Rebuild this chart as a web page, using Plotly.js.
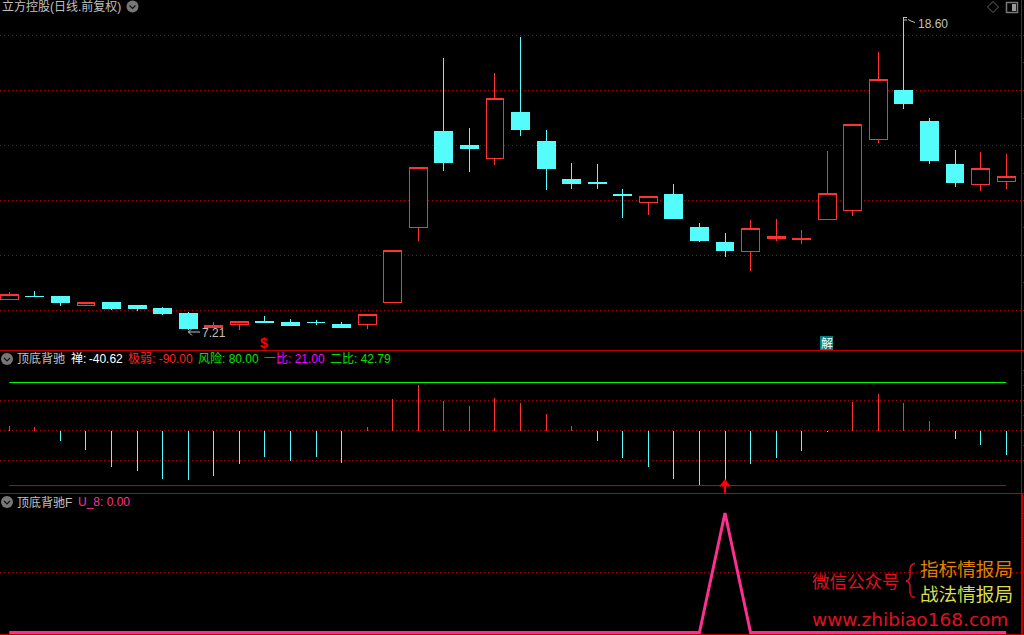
<!DOCTYPE html>
<html><head><meta charset="utf-8">
<script src="https://cdn.plot.ly/plotly-3.0.1.min.js"></script>
<style>html,body{margin:0;padding:0;background:#000;overflow:hidden}
#chart .boxes path,#chart .bars path{shape-rendering:crispEdges !important}</style>
</head><body><div id="chart" style="width:1024px;height:635px"></div>
<script>
var index = [0,1,2,3,4,5,6,7,8,9,10,11,12,13,14,15,16,17,18,19,20,21,22,23,24,25,26,27,28,29,30,31,32,33,34,35,36,37,38,39];
var open  = [8.34,8.45,8.42,8.12,8.20,8.12,8.01,7.80,7.32,7.43,7.54,7.50,7.50,7.43,7.43,8.20,10.94,14.46,13.95,13.49,15.15,14.09,12.71,12.60,12.16,11.85,12.16,10.95,10.41,10.06,10.54,10.50,11.23,11.59,14.15,15.95,14.82,13.25,12.54,12.65];
var high  = [8.60,8.64,8.42,8.23,8.20,8.12,8.05,7.87,7.51,7.54,7.72,7.61,7.58,7.51,7.76,10.13,13.16,17.14,14.59,16.60,17.91,14.51,13.31,13.27,12.36,12.10,12.54,11.12,10.76,11.23,11.27,10.86,13.75,14.70,17.36,18.60,14.95,13.78,13.71,13.64];
var low   = [8.34,8.42,8.09,8.12,7.94,7.91,7.76,7.21,7.29,7.22,7.50,7.36,7.39,7.29,7.25,8.20,10.46,13.02,12.98,13.24,14.30,12.32,12.36,12.36,11.30,11.41,11.27,10.43,9.88,9.37,10.46,10.35,11.23,11.37,14.04,15.28,13.27,12.43,12.29,12.36];
var close = [8.49,8.42,8.20,8.20,8.01,8.01,7.80,7.25,7.39,7.54,7.50,7.36,7.47,7.32,7.76,10.13,13.16,13.33,13.84,15.68,14.53,13.11,12.56,12.56,12.12,12.10,11.29,10.48,10.12,10.90,10.61,10.57,12.21,14.70,16.34,15.48,13.40,12.60,13.09,12.83];
var priceGrid = [17.96,15.95,13.95,11.94,9.93,7.93];
var priceMinor = [16.96,14.95,12.94,10.94,8.93];
var zen = [7.2,5.5,-18,-33,-61,-68,-81,-83,-76,-56,-44,-51,-44,-54.5,5.5,52,75.5,49,40.5,54,45.5,27,7,-18,-46,-61,-81,-91,-90,-56,-46,-34.5,-2.8,47,60.5,45.5,15.5,-14.5,-24.5,-40.62];
var riskLine = [80,80,80,80,80,80,80,80,80,80,80,80,80,80,80,80,80,80,80,80,80,80,80,80,80,80,80,80,80,80,80,80,80,80,80,80,80,80,80,80];
var weakLine = [-91.6,-91.6,-91.6,-91.6,-91.6,-91.6,-91.6,-91.6,-91.6,-91.6,-91.6,-91.6,-91.6,-91.6,-91.6,-91.6,-91.6,-91.6,-91.6,-91.6,-91.6,-91.6,-91.6,-91.6,-91.6,-91.6,-91.6,-91.6,-91.6,-91.6,-91.6,-91.6,-91.6,-91.6,-91.6,-91.6,-91.6,-91.6,-91.6,-91.6];
var u8 = [0,0,0,0,0,0,0,0,0,0,0,0,0,0,0,0,0,0,0,0,0,0,0,0,0,0,0,0,100,0,0,0,0,0,0,0,0,0,0,0];
var zenGrid = [50,0,-50];
var zenMinor = [100,75,25,-25];
var u8Grid = [50];
var u8Minor = [100,75,25];

var RED='#ff3232', CYAN='#54fcfc', GRID='#b00000', LINE='#c00000', GRAY='#c0c0c0';
var W=1024,H=635;
function px(x){return x/W;}
function py(y){return 1-y/H;}

var traces=[
 {type:'candlestick',x:index,open:open,high:high,low:low,close:close,xaxis:'x',yaxis:'y',whiskerwidth:0,
  increasing:{line:{color:RED,width:1},fillcolor:'#000'},
  decreasing:{line:{color:CYAN,width:1},fillcolor:CYAN},hoverinfo:'skip'},
 {type:'bar',x:index,y:zen,base:0,width:0.0393,xaxis:'x',yaxis:'y2',
  marker:{color:zen.map(function(v){return v>=0?RED:CYAN;}),line:{width:0}},hoverinfo:'skip'},
 {type:'scatter',mode:'lines',x:index,y:riskLine,xaxis:'x',yaxis:'y2',line:{color:'#00ff00',width:1},hoverinfo:'skip'},
 {type:'scatter',mode:'lines',x:index,y:weakLine,xaxis:'x',yaxis:'y2',line:{color:'#d80000',width:1},hoverinfo:'skip'},
 {type:'scatter',mode:'lines',x:[28,28],y:[-104,-92],xaxis:'x',yaxis:'y2',line:{color:'#ff0000',width:2},hoverinfo:'skip'},
 {type:'scatter',mode:'markers',x:[28],y:[-89],xaxis:'x',yaxis:'y2',marker:{symbol:'triangle-up',size:10,color:'#ff0000'},hoverinfo:'skip'},
 {type:'scatter',mode:'lines',x:index,y:u8,xaxis:'x',yaxis:'y3',line:{color:'#ff2f92',width:3},hoverinfo:'skip',cliponaxis:false}
];

function yax(domain,range,vals,minor){
 return {domain:domain,range:range,fixedrange:true,anchor:'x',side:'right',
  tickmode:'array',tickvals:vals,ticktext:vals.map(function(){return '';}),showticklabels:false,
  ticks:'outside',ticklen:3,tickcolor:LINE,tickwidth:1,
  minor:{tickmode:'array',tickvals:minor,ticks:'outside',ticklen:3,tickcolor:LINE,tickwidth:1,showgrid:false},
  showgrid:true,gridcolor:GRID,gridwidth:1,griddash:'1px,3px',zeroline:false,showline:false};
}

var shapes=[];
function hline(y,c){shapes.push({type:'line',xref:'paper',yref:'paper',x0:0,x1:1,y0:py(y),y1:py(y),line:{color:c,width:1}});}
hline(350.5,LINE);hline(493.5,LINE);hline(634.5,LINE);
var AXIS_X=1021.5;
shapes.push({type:'line',xref:'paper',yref:'paper',x0:px(AXIS_X),x1:px(AXIS_X),y0:py(0),y1:py(494),line:{color:LINE,width:1}});
shapes.push({type:'line',xref:'paper',yref:'paper',x0:px(AXIS_X+0.5),x1:px(AXIS_X+0.5),y0:py(494),y1:py(635),line:{color:LINE,width:2}});
function path(d,fill,stroke,w){
 var s=d.map(function(p){return p.length===1?p[0]:p[0]+' '+px(p[1])+' '+py(p[2]);}).join(' ');
 shapes.push({type:'path',xref:'paper',yref:'paper',path:s,fillcolor:fill||'rgba(0,0,0,0)',line:{color:stroke||'rgba(0,0,0,0)',width:w===undefined?1:w}});
}
function icon(cx,cy){
 shapes.push({type:'circle',xref:'paper',yref:'paper',x0:px(cx-6),x1:px(cx+6),y0:py(cy+6),y1:py(cy-6),fillcolor:'#777',line:{width:0}});
 path([['M',cx-3,cy-1],['L',cx,cy+2],['L',cx+3,cy-1]],null,'#111',1.2);
}
icon(132.5,6.5);icon(7,359);icon(7,502);
path([['M',993,1.5],['L',998.5,7],['L',993,12.5],['L',987.5,7],['Z']],null,'#666',1);
path([['M',1006.5,2.5],['L',1017.5,2.5],['L',1017.5,12.5],['L',1006.5,12.5],['Z']],null,'#777',1.5);
path([['M',1012,4],['L',1016,4],['L',1016,11],['L',1012,11],['Z']],'#999',null,0);
// high-price flag pointer
path([['M',903.5,17],['L',903.5,22]],null,GRAY,1);
path([['M',904,17.5],['L',907,17.5],['M',904,20],['L',907,20],['M',908,19.5],['L',911,21],['L',915,22.5]],null,GRAY,1);
// low-price arrow pointer
path([['M',188,332],['L',200,332],['M',192,328.5],['L',188.5,332],['L',192,335.5]],null,GRAY,1);
// brace of the watermark
shapes.push({type:'path',xref:'paper',yref:'paper',
 path:'M '+px(915)+' '+py(563.5)+' Q '+px(910)+' '+py(564)+' '+px(910)+' '+py(570)+' L '+px(910)+' '+py(576)+' Q '+px(910)+' '+py(580)+' '+px(906)+' '+py(581)+' Q '+px(910)+' '+py(582)+' '+px(910)+' '+py(586)+' L '+px(910)+' '+py(592)+' Q '+px(910)+' '+py(597)+' '+px(915)+' '+py(597.5),
 line:{color:'#e01020',width:1.4}});
// teal badge
shapes.push({type:'rect',xref:'paper',yref:'paper',x0:px(820),x1:px(833),y0:py(350),y1:py(336),fillcolor:'#008080',line:{width:0}});

var CJK='"Noto Sans CJK SC","Noto Sans",sans-serif';
var MIX='"Liberation Sans","Noto Sans CJK SC",sans-serif';
var annotations=[];
function label(text,x,y,size,color,family,anchor){
 annotations.push({text:text,xref:'paper',yref:'paper',x:px(x),y:py(y),xanchor:anchor||'left',yanchor:'middle',showarrow:false,borderpad:0,
   font:{size:size,color:color,family:family||MIX}});
}
label('立方控股(日线.前复权)',1,7,12,GRAY);
label('顶底背驰',16,359,12,GRAY);
label('禅:\u2009-40.62',70,359,12,'#ffffff');
label('极弱: -90.00',127,359,12,'#ff2020');
label('风险: 80.00',197,359,12,'#00e000');
label('一比: 21.00',263,359,12,'#ff00ff');
label('二比: 42.79',329,359,12,'#00e000');
label('顶底背驰F',16,502,12,GRAY);
label('U_8: 0.00',77,502,12,'#ff3399');
label('7.21',201,333,12,GRAY);
label('18.60',917,24,12,GRAY);
label('解',826.5,343,12,'#ffffff',CJK,'center');
label('<b>$</b>',264,343,14,'#ff0000','"Liberation Sans",sans-serif','center');
label('微信公众号',811,580,17.5,'#e01020',CJK);
label('指标情报局',919,567,18.6,'#e08000',CJK);
label('战法情报局',919,592,18.6,'#dcdc50',CJK);
label('www.zhibiao168.com',811,619,18.5,'#e01020','"DejaVu Sans",sans-serif');

var layout={width:W,height:H,margin:{l:0,r:0,t:0,b:0,pad:0},paper_bgcolor:'#000',plot_bgcolor:'#000',showlegend:false,hovermode:false,
 barmode:'overlay',boxgap:0.3,boxgroupgap:0,
 xaxis:{domain:[0,AXIS_X/W],range:[-0.364,39.60],visible:false,fixedrange:true,rangeslider:{visible:false},showgrid:false,zeroline:false,anchor:'y3'},
 yaxis:yax([285/635,1],[6.482,19.257],priceGrid,priceMinor),
 yaxis2:yax([142/635,284/635],[-104,132.5],zenGrid,zenMinor),
 yaxis3:yax([0,141/635],[-2.09,115.9],u8Grid,u8Minor),
 shapes:shapes,annotations:annotations};
Plotly.newPlot('chart',traces,layout,{displayModeBar:false,staticPlot:true});
</script></body></html>
